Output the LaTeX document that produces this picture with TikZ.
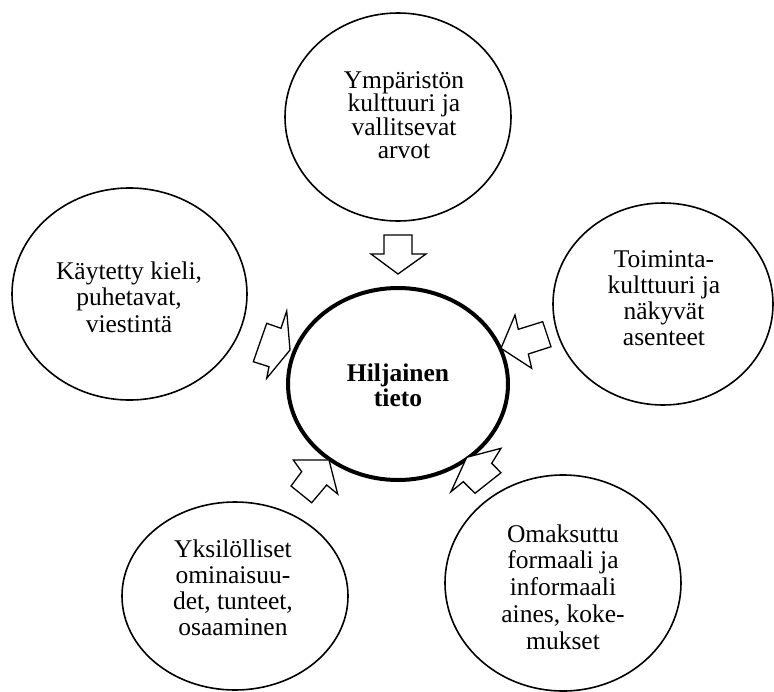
\documentclass[tikz,border=0pt]{standalone}
\usepackage{fontspec}
\setmainfont{Liberation Serif}
\usetikzlibrary{shapes.geometric}
\begin{document}
\begin{tikzpicture}[x=1pt,y=-1pt,
  bubble/.style={draw, ellipse, line width=1.6pt, inner sep=0pt},
  core/.style={draw, ellipse, line width=4pt, inner sep=0pt},
  lbl/.style={align=center, inner sep=0pt},
  barrow/.style={draw, fill=white, line width=1.3pt, line join=miter}]
\useasboundingbox (0,0) rectangle (774,691);
% outer bubbles
\node[bubble, minimum width=226pt, minimum height=208pt] (top) at (398,117) {};
\node[bubble, minimum width=235pt, minimum height=212pt] (left) at (129.5,294) {};
\node[bubble, minimum width=220pt, minimum height=202pt] (right) at (663,304) {};
\node[bubble, minimum width=226pt, minimum height=188pt] (bl) at (235,596) {};
\node[bubble, minimum width=236pt, minimum height=216pt] (br) at (563,583) {};
\node[core, minimum width=220pt, minimum height=192pt] (c) at (398,384) {};
% texts
\node[lbl, font=\fontsize{25.5}{23.5}\selectfont] (topt) at (404,115) {Ympäristön\\kulttuuri ja\\vallitsevat\\arvot};
\node[lbl, font=\fontsize{25.5}{26.7}\selectfont] (leftt) at (129,297) {Käytetty kieli,\\puhetavat,\\viestintä};
\node[lbl, font=\fontsize{25.5}{26.1}\selectfont] (rightt) at (664,298) {Toiminta-\\kulttuuri ja\\näkyvät\\asenteet};
\node[lbl, font=\fontsize{25.5}{26.1}\selectfont] (blt) at (233,588) {Yksilölliset\\ominaisuu-\\det, tunteet,\\osaaminen};
\node[lbl, font=\fontsize{25.5}{26.8}\selectfont] (brt) at (563,587) {Omaksuttu\\formaali ja\\informaali\\aines, koke-\\mukset};
\node[lbl, font=\bfseries\fontsize{25.5}{25}\selectfont] (ct) at (398,385) {Hiljainen\\tieto};
% block arrows
\draw[barrow] (384,235)--(412,235)--(412,254)--(426,254)--(398,274)--(371,254)--(384,254)--cycle;
\draw[barrow] (266.7,323.3)--(281,328.3)--(286.7,311)--(290,350)--(266.7,378.3)--(269,366.7)--(253.3,361.7)--cycle;
\draw[barrow] (542.7,321.7)--(518.3,329.3)--(515,315)--(501,348.3)--(531.7,368.3)--(528.3,354)--(551,346.7)--cycle;
\draw[barrow] (291,486)--(301.7,471.7)--(293.3,460)--(329,460)--(337.7,494)--(326.7,485)--(311.7,502.7)--cycle;
\draw[barrow] (466.7,457.3)--(501,448.3)--(491.7,463.3)--(501,472.7)--(475,493.3)--(463.3,481.7)--(451,491.7)--cycle;
\end{tikzpicture}
\end{document}
